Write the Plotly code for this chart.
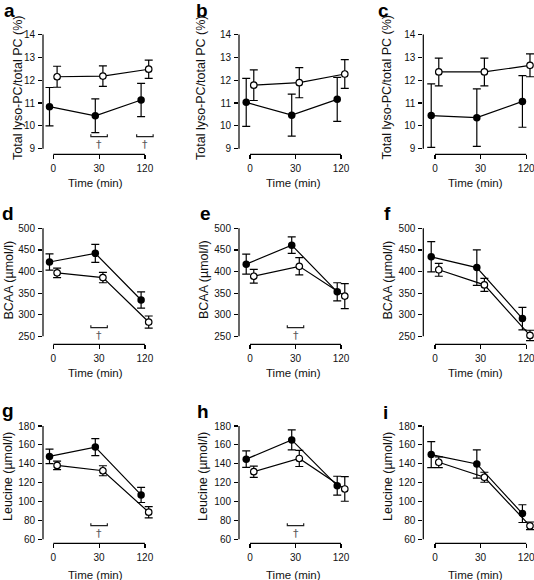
import plotly.graph_objects as go

W, H = 534, 580
FONT = "Liberation Sans, Arial, Helvetica, sans-serif"

# ---------------- data ----------------
time_labels = ["0", "30", "120"]

# Total lyso-PC / total PC (%)
a_filled = [10.84, 10.44, 11.13]
a_filled_se = [0.84, 0.74, 0.73]
a_open = [12.15, 12.18, 12.48]
a_open_se = [0.46, 0.45, 0.40]

b_filled = [11.03, 10.47, 11.16]
b_filled_se = [1.05, 0.92, 0.96]
b_open = [11.78, 11.89, 12.27]
b_open_se = [0.67, 0.66, 0.63]

c_filled = [10.45, 10.36, 11.07]
c_filled_se = [1.39, 1.26, 1.13]
c_open = [12.36, 12.36, 12.65]
c_open_se = [0.61, 0.61, 0.50]

# BCAA (umol/l)
d_filled = [422, 442, 334]
d_filled_se = [19, 21, 19]
d_open = [397, 386, 283]
d_open_se = [11, 12, 14]

e_filled = [417, 461, 353]
e_filled_se = [23, 19, 21]
e_open = [389, 412, 343]
e_open_se = [16, 20, 29]

f_filled = [434, 409, 291]
f_filled_se = [35, 41, 26]
f_open = [404, 369, 252]
f_open_se = [15, 15, 12]

# Leucine (umol/l)
g_filled = [147.8, 157.7, 107.0]
g_filled_se = [7.7, 9.0, 8.0]
g_open = [138.2, 132.6, 88.7]
g_open_se = [4.5, 5.3, 6.0]

h_filled = [144.9, 165.3, 116.8]
h_filled_se = [8.8, 10.5, 10.0]
h_open = [131.6, 145.6, 113.3]
h_open_se = [6.0, 8.5, 13.0]

i_filled = [149.7, 139.8, 87.2]
i_filled_se = [13.7, 15.0, 9.4]
i_open = [141.6, 125.7, 74.3]
i_open_se = [5.6, 5.3, 4.0]

# significant time points (dagger) per panel
sig_a = ["30", "120"]
sig_d = ["30"]
sig_e = ["30"]
sig_g = ["30"]
sig_h = ["30"]

row_titles = ["Total lyso-PC/total PC (%)", "BCAA (µmol/l)", "Leucine (µmol/l)"]
row_ticks = [[9, 10, 11, 12, 13, 14],
             [250, 300, 350, 400, 450, 500],
             [60, 80, 100, 120, 140, 160, 180]]

panels = [
    ("a", a_filled, a_filled_se, a_open, a_open_se, sig_a),
    ("b", b_filled, b_filled_se, b_open, b_open_se, []),
    ("c", c_filled, c_filled_se, c_open, c_open_se, []),
    ("d", d_filled, d_filled_se, d_open, d_open_se, sig_d),
    ("e", e_filled, e_filled_se, e_open, e_open_se, sig_e),
    ("f", f_filled, f_filled_se, f_open, f_open_se, []),
    ("g", g_filled, g_filled_se, g_open, g_open_se, sig_g),
    ("h", h_filled, h_filled_se, h_open, h_open_se, sig_h),
    ("i", i_filled, i_filled_se, i_open, i_open_se, []),
]

# ---------------- layout geometry (pixels) ----------------
COLS = [
    dict(yline=43.0, tick0=53.3, unit=45.8, time_x=95.0),
    dict(yline=239.0, tick0=250.0, unit=45.5, time_x=293.0),
    dict(yline=423.3, tick0=435.0, unit=45.6, time_x=475.5),
]
ROWS = [
    dict(top=34.5, bot=148.7, xline=154.3, time_y=183.0, title_y=88.0,
         brk_px=136.7, dag_px=144.0),
    dict(top=228.3, bot=336.3, xline=344.3, time_y=373.0, title_y=280.0,
         brk_px=327.7, dag_px=335.5),
    dict(top=426.0, bot=539.3, xline=543.3, time_y=575.0, title_y=477.0,
         brk_px=525.7, dag_px=533.3),
]
TITLE_X = {"a": 18.0, "b": 201.0, "c": 386.5,
           "d": 8.5, "e": 204.0, "f": 387.5,
           "g": 8.0, "h": 203.0, "i": 388.0}
LETTERS = {"a": (2, 10), "b": (194, 10), "c": (376, 11),
           "d": (0, 213), "e": (198, 214), "f": (382, 213),
           "g": (0, 410), "h": (195, 411), "i": (381, 412)}

OFF = 0.083   # horizontal dodge of the two groups
PAD = 10      # px of extra plot room above/below the axis line

fig = go.Figure()
layout = dict(width=W, height=H, margin=dict(l=0, r=0, t=0, b=0),
              paper_bgcolor="white", plot_bgcolor="white", showlegend=False,
              font=dict(family=FONT, color="#111"))
shapes, annotations = [], []

def px_x(p):
    return p / W

def px_y(p):
    return 1 - p / H

for n, (letter, fm, fse, om, ose, sig) in enumerate(panels, start=1):
    r, c = divmod(n - 1, 3)
    col, row = COLS[c], ROWS[r]
    ticks = row_ticks[r]
    lo, hi = ticks[0], ticks[-1]
    upp = (hi - lo) / (row["bot"] - row["top"])
    xs = "" if n == 1 else str(n)
    xref, yref = "x" + xs, "y" + xs
    idx = list(range(len(time_labels)))

    # x geometry
    right_px = min(col["tick0"] + 2 * col["unit"] + 16, W)
    xr = [(col["yline"] - col["tick0"]) / col["unit"], (right_px - col["tick0"]) / col["unit"]]
    layout["xaxis" + xs] = dict(
        domain=[px_x(col["yline"]), px_x(right_px)], range=xr,
        anchor="free", position=px_y(row["xline"]),
        showline=False, showgrid=False, zeroline=False,
        tickmode="array", tickvals=idx, ticktext=time_labels,
        ticks="outside", ticklen=4, tickwidth=1.2, tickcolor="black",
        tickfont=dict(size=10, family=FONT, color="#111"), ticklabelstandoff=1,
        ticklabeloverflow="allow",
    )
    layout["yaxis" + xs] = dict(
        domain=[px_y(row["bot"] + PAD), px_y(row["top"] - PAD)],
        range=[lo - PAD * upp, hi + PAD * upp], anchor=xref,
        showline=False, showgrid=False, zeroline=False,
        tickmode="array", tickvals=ticks,
        ticks="outside", ticklen=4, tickwidth=1.2, tickcolor="black",
        tickfont=dict(size=10, family=FONT, color="#111"), ticklabelstandoff=1,
        ticklabeloverflow="allow",
    )
    # detached axis lines
    shapes.append(dict(type="line", xref="paper", yref=yref,
                       x0=px_x(col["yline"]), x1=px_x(col["yline"]), y0=lo, y1=hi,
                       line=dict(color="black", width=1.2)))
    shapes.append(dict(type="line", xref=xref, yref="paper",
                       x0=idx[0], x1=idx[-1], y0=px_y(row["xline"]), y1=px_y(row["xline"]),
                       line=dict(color="black", width=1.2)))

    # series
    common = dict(mode="lines+markers", xaxis=xref, yaxis=yref, cliponaxis=False,
                  line=dict(color="black", width=1.2), hoverinfo="skip")
    fig.add_trace(go.Scatter(
        x=[i - OFF for i in idx], y=fm,
        error_y=dict(type="data", array=fse, visible=True, color="black", thickness=1.2, width=4),
        marker=dict(symbol="circle", size=7.5, color="black", line=dict(width=0)),
        **common))
    fig.add_trace(go.Scatter(
        x=[i + OFF for i in idx], y=om,
        error_y=dict(type="data", array=ose, visible=True, color="black", thickness=1.2, width=4),
        marker=dict(symbol="circle", size=6.5, color="white", line=dict(color="black", width=1.2)),
        **common))

    # significance brackets and daggers
    brk = hi - (row["brk_px"] - row["top"]) * upp
    dag = hi - (row["dag_px"] - row["top"]) * upp
    hgt = 2.5 * upp
    for t in sig:
        k = time_labels.index(t)
        x0, x1 = k - 0.18, k + 0.18
        shapes.append(dict(type="path", xref=xref, yref=yref,
                           path=f"M {x0},{brk + hgt} L {x0},{brk} L {x1},{brk} L {x1},{brk + hgt}",
                           line=dict(color="#222", width=1.2)))
        annotations.append(dict(text="†", x=k, y=dag, xref=xref, yref=yref,
                                showarrow=False, xanchor="center", yanchor="middle",
                                font=dict(size=11, color="#555", family="DejaVu Sans, " + FONT)))

    # texts
    lx, ly = LETTERS[letter]
    annotations.append(dict(text=f"<b>{letter}</b>", x=px_x(lx), y=px_y(ly),
                            xref="paper", yref="paper", showarrow=False,
                            xanchor="left", yanchor="middle",
                            font=dict(size=19, color="black", family=FONT)))
    annotations.append(dict(text=row_titles[r], x=px_x(TITLE_X[letter]), y=px_y(row["title_y"]),
                            xref="paper", yref="paper", showarrow=False, textangle=-90,
                            xanchor="center", yanchor="middle",
                            font=dict(size=12.5, color="#111", family=FONT)))
    annotations.append(dict(text="Time (min)", x=px_x(col["time_x"]), y=px_y(row["time_y"]),
                            xref="paper", yref="paper", showarrow=False,
                            xanchor="center", yanchor="middle",
                            font=dict(size=11.5, color="#111", family=FONT)))

layout["shapes"] = shapes
layout["annotations"] = annotations
fig.update_layout(**layout)
fig.write_html("out.html", config={"displayModeBar": False, "staticPlot": True},
               post_script="document.body.style.margin='0';document.body.style.overflow='hidden';")
